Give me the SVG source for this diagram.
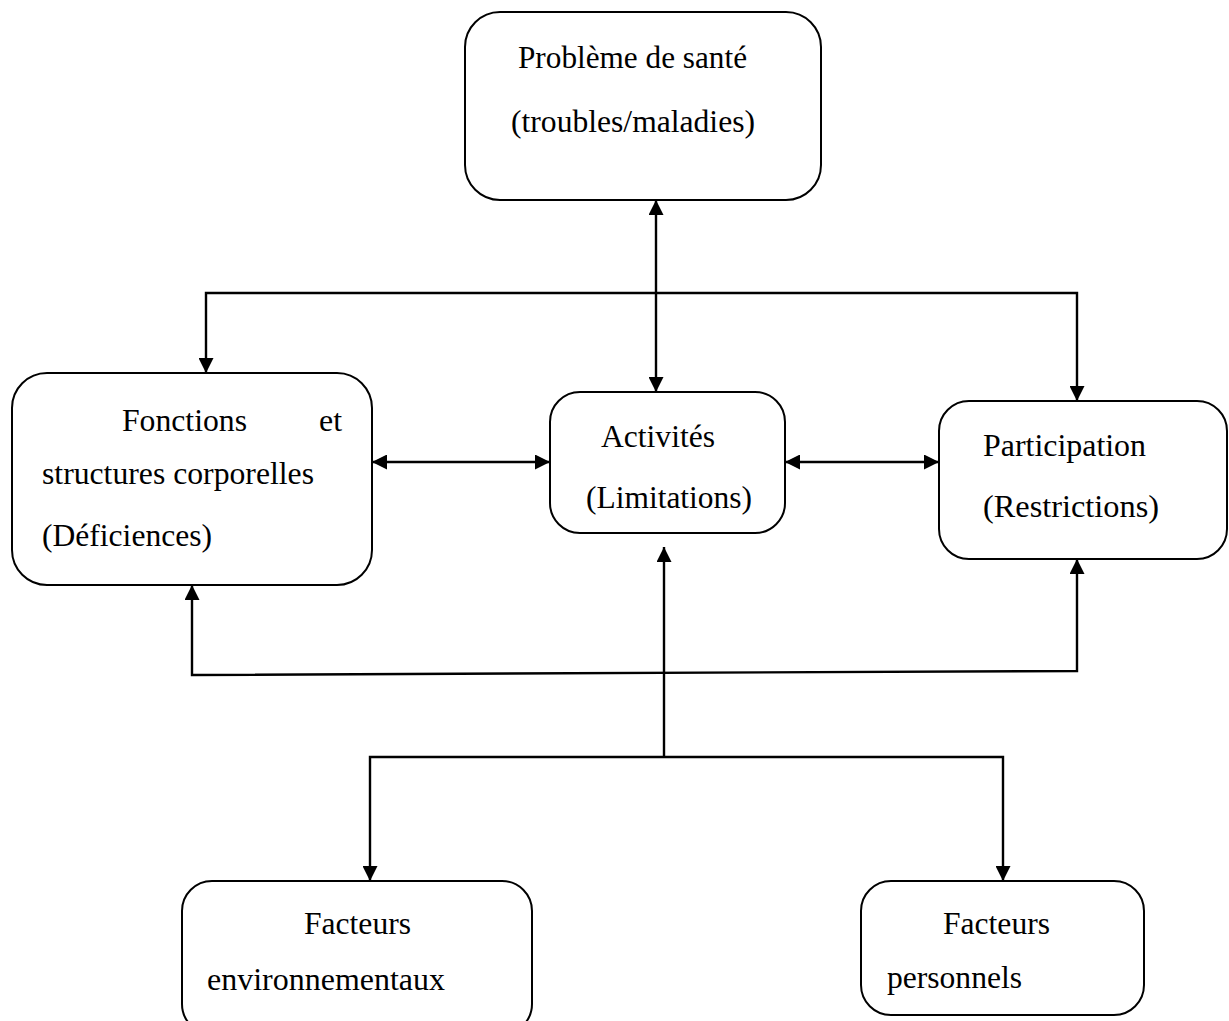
<svg xmlns="http://www.w3.org/2000/svg" width="1229" height="1021" viewBox="0 0 1229 1021">
<style>
.box{fill:#fff;stroke:#000;stroke-width:2}
.lbl{font-family:"Liberation Serif","Times New Roman",serif;font-size:31px;fill:#000}
.con{fill:none;stroke:#000;stroke-width:2.4}
</style>
<defs>
<marker id="arr" viewBox="0 0 15 15" refX="15" refY="7.5" markerWidth="15" markerHeight="15" markerUnits="userSpaceOnUse" orient="auto-start-reverse">
<path d="M0,0 L15,7.5 L0,15 z" fill="#000"/>
</marker>
</defs>
<rect width="1229" height="1021" fill="#fff"/>
<g id="connectors">
<path class="con" d="M656,200 L656,392" marker-start="url(#arr)" marker-end="url(#arr)"/>
<path class="con" d="M206,373 L206,293 L1077,293 L1077,401" marker-start="url(#arr)" marker-end="url(#arr)"/>
<path class="con" d="M372,462 L550,462" marker-start="url(#arr)" marker-end="url(#arr)"/>
<path class="con" d="M785,462 L939,462" marker-start="url(#arr)" marker-end="url(#arr)"/>
<path class="con" d="M192,585 L192,675 L1077,671 L1077,559" marker-start="url(#arr)" marker-end="url(#arr)"/>
<path class="con" d="M370,881 L370,757 L1003,757 L1003,881" marker-start="url(#arr)" marker-end="url(#arr)"/>
<path class="con" d="M664,757 L664,547" marker-end="url(#arr)"/>
</g>
<g id="probleme">
<rect class="box" x="465" y="12" width="356" height="188" rx="35"/>
<text class="lbl" x="518" y="68" textLength="229" lengthAdjust="spacingAndGlyphs">Problème de santé</text>
<text class="lbl" x="511" y="132" textLength="244" lengthAdjust="spacingAndGlyphs">(troubles/maladies)</text>
</g>
<g id="fonctions">
<rect class="box" x="12" y="373" width="360" height="212" rx="35"/>
<text class="lbl" x="122" y="431" textLength="125" lengthAdjust="spacingAndGlyphs">Fonctions</text>
<text class="lbl" x="319" y="431" textLength="23" lengthAdjust="spacingAndGlyphs">et</text>
<text class="lbl" x="42" y="484" textLength="272" lengthAdjust="spacingAndGlyphs">structures corporelles</text>
<text class="lbl" x="42" y="546" textLength="170" lengthAdjust="spacingAndGlyphs">(Déficiences)</text>
</g>
<g id="activites">
<rect class="box" x="550" y="392" width="235" height="141" rx="30"/>
<text class="lbl" x="601" y="447" textLength="114" lengthAdjust="spacingAndGlyphs">Activités</text>
<text class="lbl" x="586" y="508" textLength="166" lengthAdjust="spacingAndGlyphs">(Limitations)</text>
</g>
<g id="participation">
<rect class="box" x="939" y="401" width="288" height="158" rx="30"/>
<text class="lbl" x="983" y="456" textLength="163" lengthAdjust="spacingAndGlyphs">Participation</text>
<text class="lbl" x="983" y="517" textLength="176" lengthAdjust="spacingAndGlyphs">(Restrictions)</text>
</g>
<g id="environnementaux">
<rect class="box" x="182" y="881" width="350" height="153" rx="30"/>
<text class="lbl" x="304" y="934" textLength="107" lengthAdjust="spacingAndGlyphs">Facteurs</text>
<text class="lbl" x="207" y="990" textLength="238" lengthAdjust="spacingAndGlyphs">environnementaux</text>
</g>
<g id="personnels">
<rect class="box" x="861" y="881" width="283" height="134" rx="30"/>
<text class="lbl" x="943" y="934" textLength="107" lengthAdjust="spacingAndGlyphs">Facteurs</text>
<text class="lbl" x="887" y="988" textLength="135" lengthAdjust="spacingAndGlyphs">personnels</text>
</g>
</svg>
